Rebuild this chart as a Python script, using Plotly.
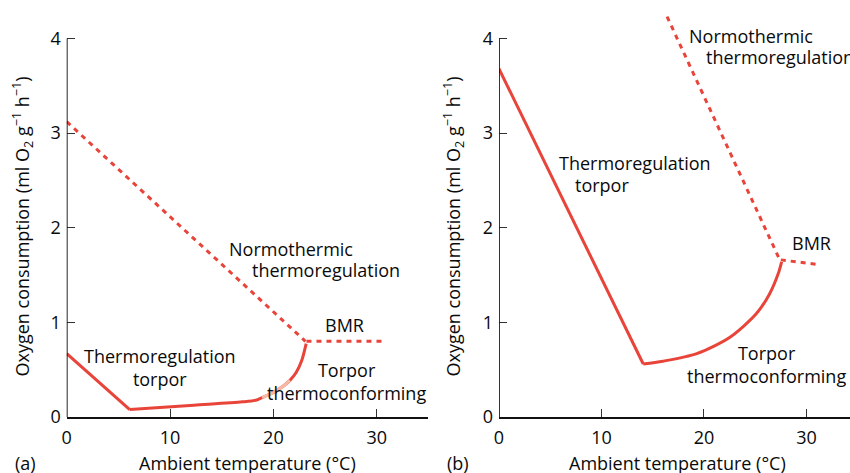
import plotly.graph_objects as go

RED = "#e8443a"
LIGHT = "#f6b9a6"
FONT = "Open Sans"

# Panel (a)
a_norm_x = [0, 23.1]
a_norm_y = [3.12, 0.80]
a_bmr_x = [23.2, 30.8]
a_bmr_y = [0.80, 0.80]
a_drop_x = [0, 6.1]
a_drop_y = [0.67, 0.078]
a_curve_x = [6.1, 12.3, 17.0, 18.4, 19.03, 20.0, 21.0, 21.6, 22.2, 22.75, 23.17]
a_curve_y = [0.078, 0.124, 0.160, 0.180, 0.211, 0.26, 0.33, 0.387, 0.47, 0.60, 0.776]
a_light_x = [18.9, 19.03, 20.0, 21.0, 21.6]
a_light_y = [0.204, 0.211, 0.26, 0.33, 0.387]

# Panel (b)
b_norm_x = [16.4, 27.4]
b_norm_y = [4.23, 1.66]
b_bmr_x = [27.5, 31.2]
b_bmr_y = [1.66, 1.61]
b_drop_x = [0, 14.08]
b_drop_y = [3.68, 0.56]
b_curve_x = [14.08, 16.0, 19.3, 22.5, 25.1, 26.4, 27.25, 27.58]
b_curve_y = [0.56, 0.59, 0.67, 0.84, 1.09, 1.30, 1.515, 1.64]

x_ticks = [0, 10, 20, 30]
y_ticks = [0, 1, 2, 3, 4]

fig = go.Figure()
dot = dict(color=RED, width=3, dash="5px,5px")
solid = dict(color=RED, width=3)
curve = dict(color=RED, width=3, shape="spline", smoothing=0.8)

def add(x, y, line, xa, ya):
    fig.add_trace(go.Scatter(x=x, y=y, mode="lines", line=line, xaxis=xa, yaxis=ya, hoverinfo="skip"))

add(a_norm_x, a_norm_y, dot, "x", "y")
add(a_bmr_x, a_bmr_y, dot, "x", "y")
add(a_drop_x, a_drop_y, solid, "x", "y")
add(a_curve_x, a_curve_y, curve, "x", "y")
add(a_light_x, a_light_y, dict(curve, color=LIGHT), "x", "y")

add(b_norm_x, b_norm_y, dot, "x2", "y2")
add(b_bmr_x, b_bmr_y, dot, "x2", "y2")
add(b_drop_x, b_drop_y, solid, "x2", "y2")
add(b_curve_x, b_curve_y, curve, "x2", "y2")

axis_common = dict(showgrid=False, zeroline=False, ticks="inside", ticklen=8, tickwidth=1.2,
                   tickcolor="#333", automargin=False,
                   tickfont=dict(family=FONT, size=18, color="#0a0a0a"))

fig.update_layout(
    template="none",
    width=850, height=473,
    margin=dict(l=0, r=0, t=10, b=56, pad=0),
    paper_bgcolor="white", plot_bgcolor="white",
    showlegend=False,
    font=dict(family=FONT, size=18, color="#0a0a0a"),
    xaxis=dict(axis_common, domain=[0.0785, 0.504], range=[0, 35], tickvals=x_ticks,
               showline=True, linecolor="#111", linewidth=1.8, anchor="y", ticklabelstandoff=3),
    yaxis=dict(axis_common, domain=[0, 1], range=[0, 4.3], tickvals=y_ticks,
               showline=False, anchor="x", ticklabelstandoff=5),
    xaxis2=dict(axis_common, domain=[0.587, 1.0], range=[0, 34.25], tickvals=x_ticks,
                showline=True, linecolor="#111", linewidth=1.8, anchor="y2", ticklabelstandoff=3),
    yaxis2=dict(axis_common, domain=[0, 1], range=[0, 4.3], tickvals=y_ticks,
                showline=False, anchor="x2", ticklabelstandoff=5),
)

# y axis lines that stop at 4
fig.add_shape(type="line", xref="x", yref="y", x0=0, x1=0, y0=0, y1=4, line=dict(color="#111", width=1.8))
fig.add_shape(type="line", xref="x2", yref="y2", x0=0, x1=0, y0=0, y1=4, line=dict(color="#111", width=1.8))

ann = []
def A(text, x, y, xref, yref, xanchor="center", yanchor="middle", align="center", angle=0, size=18):
    ann.append(dict(text=text, x=x, y=y, xref=xref, yref=yref, xanchor=xanchor, yanchor=yanchor,
                    align=align, showarrow=False, textangle=angle, font=dict(family=FONT, size=size, color="#0a0a0a")))

# panel a labels
A("Normothermic", 15.52, 1.78, "x", "y", xanchor="left")
A("thermoregulation", 17.74, 1.55, "x", "y", xanchor="left")
A("BMR", 26.84, 0.97, "x", "y")
A("Thermoregulation<br>torpor", 9.03, 0.52, "x", "y")
A("Torpor<br>thermoconforming", 27.1, 0.372, "x", "y")
# panel b labels
A("Normothermic", 18.31, 4.03, "x2", "y2", xanchor="left")
A("thermoregulation", 20.0, 3.80, "x2", "y2", xanchor="left")
A("BMR", 30.54, 1.835, "x2", "y2")
A("Thermoregulation", 5.63, 2.68, "x2", "y2", xanchor="left")
A("torpor", 7.22, 2.45, "x2", "y2", xanchor="left")
A("Torpor<br>thermoconforming", 26.1, 0.56, "x2", "y2")

# axis titles and panel letters (paper coords)
ytitle = "Oxygen consumption (ml O<sub>2</sub> g<sup>\u22121</sup> h<sup>\u22121</sup>)"
A(ytitle, 22 / 850, (417 - 226.5) / 407, "paper", "paper", angle=-90)
A(ytitle, 453 / 850, (417 - 226.5) / 407, "paper", "paper", angle=-90)
A("Ambient temperature (\u00b0C)", 247.5 / 850, (417 - 463) / 407, "paper", "paper")
A("Ambient temperature (\u00b0C)", 677.5 / 850, (417 - 463) / 407, "paper", "paper")
A("(a)", 13 / 850, (417 - 463) / 407, "paper", "paper", xanchor="left")
A("(b)", 445 / 850, (417 - 463) / 407, "paper", "paper", xanchor="left")

fig.update_layout(annotations=ann)
fig.write_html("out.html", config={"displayModeBar": False},
               post_script="document.body.style.margin='0';document.body.style.padding='0';")
